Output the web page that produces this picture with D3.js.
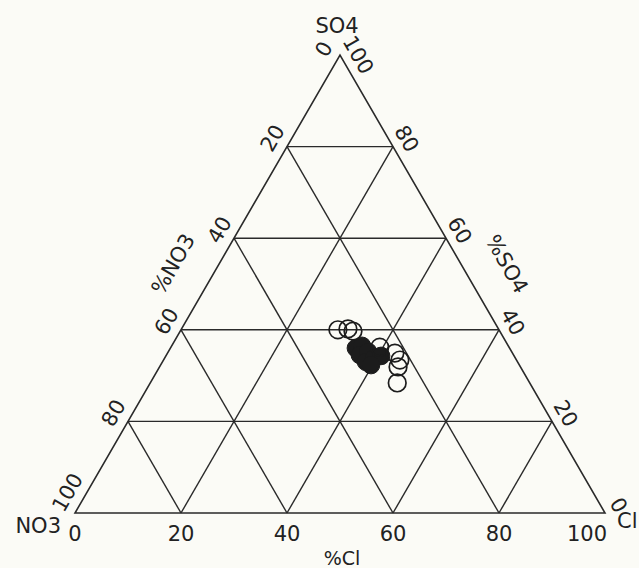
<!DOCTYPE html>
<html>
<head>
<meta charset="utf-8">
<script src="https://cdn.jsdelivr.net/npm/d3@7"></script>
<style>
  body { margin: 0; background: #fbfbf6; }
  text { font-family: "DejaVu Sans", "Liberation Sans", Arial, sans-serif; fill: #222; }
</style>
</head>
<body>
<div id="chart"></div>
<script>
// ternary data, values in percent (Cl, NO3, SO4)
const ticks = [0, 20, 40, 60, 80, 100];
const gridValues = [20, 40, 60, 80];

const openCl  = [29.6, 31.4, 32.6, 39.4, 42.9, 44.6, 45.0, 46.6];
const openSO4 = [40.0, 40.2, 39.7, 36.2, 34.9, 33.4, 31.9, 28.4];
const openNO3 = [30.4, 28.4, 27.7, 24.4, 22.2, 22.0, 23.1, 25.0];

const filledCl  = [35.0, 35.9, 36.5, 37.7, 38.4, 39.5, 40.6, 39.7];
const filledSO4 = [36.0, 36.5, 34.5, 35.2, 33.0, 33.8, 34.3, 32.3];
const filledNO3 = [29.0, 27.6, 29.0, 27.1, 28.6, 26.7, 25.1, 28.0];

const width = 639;
const height = 568;
const fontSize = "21px";

const svg = d3.select("#chart")
  .append("svg")
  .attr("width", width)
  .attr("height", height);

// bottom runs 0..100 %Cl, vertical runs 0..100 %SO4
const xScale = d3.scaleLinear().domain([0, 100]).range([75, 605]);
const yScale = d3.scaleLinear().domain([0, 100]).range([513, 55]);

const px = (cl, so4) => xScale(cl + so4 / 2);
const py = (cl, so4) => yScale(so4);

const lineColor = "#2a2a2a";

function seg(cl1, s1, cl2, s2) {
  svg.append("line")
    .attr("x1", px(cl1, s1)).attr("y1", py(cl1, s1))
    .attr("x2", px(cl2, s2)).attr("y2", py(cl2, s2))
    .attr("stroke", lineColor)
    .attr("stroke-width", 1.4);
}

// grid lines
gridValues.forEach(v => {
  seg(0, v, 100 - v, v);          // constant SO4
  seg(v, 0, v, 100 - v);          // constant Cl
  seg(100 - v, 0, 0, 100 - v);    // constant NO3
});

// outline
svg.append("path")
  .attr("d", d3.line()([[px(0, 0), py(0, 0)], [px(100, 0), py(100, 0)], [px(0, 100), py(0, 100)]]) + "Z")
  .attr("fill", "none")
  .attr("stroke", lineColor)
  .attr("stroke-width", 1.6);

// bottom ticks (%Cl)
svg.selectAll(".bt")
  .data(ticks)
  .enter()
  .append("text")
  .attr("x", d => d === 100 ? px(d, 0) + 2 : px(d, 0))
  .attr("y", 541)
  .attr("text-anchor", d => d === 100 ? "end" : "middle")
  .style("font-size", fontSize)
  .text(d => d);

// left ticks (%NO3): 0 at apex, 100 at NO3 corner
// shift along the edge (positive = towards apex) for the end labels
const leftShift = { 0: -3, 100: 14 };
svg.selectAll(".lt")
  .data(ticks)
  .enter()
  .append("text")
  .attr("transform", d => {
    const t = leftShift[d] || 0;
    const x = px(0, 100 - d) - 0.864 * 17 + 0.5 * t;
    const y = py(0, 100 - d) - 0.5 * 17 - 0.864 * t;
    return `translate(${x},${y}) rotate(-60)`;
  })
  .attr("text-anchor", "middle")
  .attr("dy", "0.35em")
  .style("font-size", fontSize)
  .text(d => d);

// right ticks (%SO4): 100 at apex, 0 at Cl corner
const rightShift = { 100: 9 };
svg.selectAll(".rt")
  .data(ticks)
  .enter()
  .append("text")
  .attr("transform", d => {
    const t = rightShift[d] || 0;
    const x = px(100 - d, d) + 0.864 * 16 + 0.5 * t;
    const y = py(100 - d, d) - 0.5 * 16 + 0.864 * t;
    return `translate(${x},${y}) rotate(60)`;
  })
  .attr("text-anchor", "middle")
  .attr("dy", "0.35em")
  .style("font-size", fontSize)
  .text(d => d);

// axis titles
svg.append("text")
  .attr("transform", `translate(${px(0, 50) - 0.864 * 40},${py(0, 50) - 0.5 * 40}) rotate(-60)`)
  .attr("text-anchor", "middle")
  .attr("dy", "0.35em")
  .style("font-size", fontSize)
  .text("%NO3");

svg.append("text")
  .attr("transform", `translate(${px(50, 50) + 0.864 * 40},${py(50, 50) - 0.5 * 40}) rotate(60)`)
  .attr("text-anchor", "middle")
  .attr("dy", "0.35em")
  .style("font-size", fontSize)
  .text("%SO4");

svg.append("text")
  .attr("x", xScale(50) + 2)
  .attr("y", 565)
  .attr("text-anchor", "middle")
  .style("font-size", "19px")
  .text("%Cl");

// corner labels
svg.append("text")
  .attr("x", px(0, 100) - 3)
  .attr("y", 33)
  .attr("text-anchor", "middle")
  .style("font-size", fontSize)
  .text("SO4");

svg.append("text")
  .attr("x", 61)
  .attr("y", 533)
  .attr("text-anchor", "end")
  .style("font-size", fontSize)
  .text("NO3");

svg.append("text")
  .attr("x", 617)
  .attr("y", 528)
  .style("font-size", fontSize)
  .text("Cl");

// data points
const filled = filledCl.map((c, i) => ({ cl: c, so4: filledSO4[i], no3: filledNO3[i] }));
const open = openCl.map((c, i) => ({ cl: c, so4: openSO4[i], no3: openNO3[i] }));

svg.selectAll(".filled")
  .data(filled)
  .enter()
  .append("circle")
  .attr("cx", d => px(d.cl, d.so4))
  .attr("cy", d => py(d.cl, d.so4))
  .attr("r", 8.8)
  .attr("fill", "#1c1c1c")
  .attr("stroke", "#1c1c1c")
  .attr("stroke-width", 1);

svg.selectAll(".open")
  .data(open)
  .enter()
  .append("circle")
  .attr("cx", d => px(d.cl, d.so4))
  .attr("cy", d => py(d.cl, d.so4))
  .attr("r", 8.8)
  .attr("fill", "none")
  .attr("stroke", "#1c1c1c")
  .attr("stroke-width", 1.7);
</script>
</body>
</html>
